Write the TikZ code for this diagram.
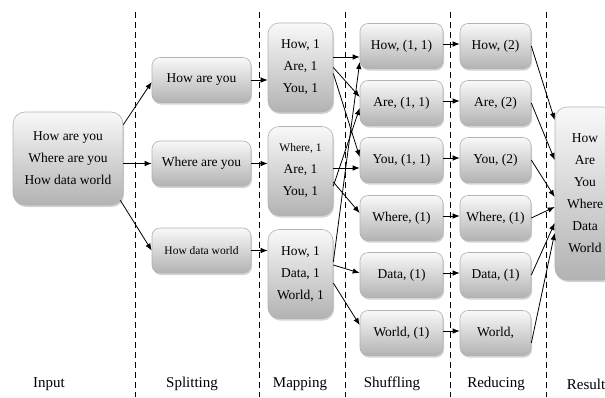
\documentclass[tikz,border=0pt]{standalone}
\usepackage{fontspec}
\setmainfont{Liberation Serif}
\usetikzlibrary{shadows,arrows.meta}

\tikzset{
    box/.style={draw=gray!60, line width=0.6pt, rounded corners=8pt, top color=gray!5, bottom color=gray!60,
        drop shadow={opacity=0.35,shadow xshift=1pt,shadow yshift=-2pt},
        inner sep=0pt, align=center, font=\fontsize{13.5}{22}\selectfont},
    flow/.style={-{Latex[length=7pt,width=5.5pt]}, line width=0.8pt},
    sep/.style={line width=1pt, dash pattern=on 6pt off 4pt},
    phase/.style={font=\fontsize{15}{17}\selectfont}
}

\begin{document}
\begin{tikzpicture}[x=1pt,y=1pt,yscale=-1]
    \useasboundingbox (0,0) rectangle (605,397);

    \draw[sep] (135,12) -- (135,397);
    \draw[sep] (259,12) -- (259,397);
    \draw[sep] (345,12) -- (345,397);
    \draw[sep] (450,12) -- (450,397);
    \draw[sep] (546,12) -- (546,397);

    \node[box, rounded corners=12pt, minimum width=110pt, minimum height=93pt] (in) at (68,158.5) {How are you\\Where are you\\How data world};

    \node[box, minimum width=99pt, minimum height=45pt] (s1) at (201.5,80) {How are you};
    \node[box, minimum width=99pt, minimum height=45pt] (s2) at (201.5,163.5) {Where are you};
    \node[box, minimum width=99pt, minimum height=45pt, font=\fontsize{11.5}{13}\selectfont] (s3) at (201.5,250.5) {How data world};

    \node[box, rounded corners=11pt, minimum width=65pt, minimum height=89pt] (m1) at (300.5,67.5) {How, 1\\Are, 1\\You, 1};
    \node[box, rounded corners=11pt, minimum width=65pt, minimum height=89pt] (m2) at (300.5,171) {{\fontsize{11.5}{13}\selectfont Where, 1}\\Are, 1\\You, 1};
    \node[box, rounded corners=11pt, minimum width=65pt, minimum height=89pt] (m3) at (300.5,274) {How, 1\\Data, 1\\World, 1};

    \node[box, minimum width=83pt, minimum height=45pt] (sh1) at (401.5,46) {How, (1, 1)};
    \node[box, minimum width=83pt, minimum height=45pt] (sh2) at (401.5,103) {Are, (1, 1)};
    \node[box, minimum width=83pt, minimum height=45pt] (sh3) at (401.5,160) {You, (1, 1)};
    \node[box, minimum width=83pt, minimum height=45pt] (sh4) at (401.5,218) {Where, (1)};
    \node[box, minimum width=83pt, minimum height=45pt] (sh5) at (401.5,275) {Data, (1)};
    \node[box, minimum width=83pt, minimum height=45pt] (sh6) at (401.5,333) {World, (1)};

    \node[box, minimum width=71pt, minimum height=45pt] (r1) at (495.5,46) {How, (2)};
    \node[box, minimum width=71pt, minimum height=45pt] (r2) at (495.5,103) {Are, (2)};
    \node[box, minimum width=71pt, minimum height=45pt] (r3) at (495.5,160) {You, (2)};
    \node[box, minimum width=71pt, minimum height=45pt] (r4) at (495.5,218) {Where, (1)};
    \node[box, minimum width=71pt, minimum height=45pt] (r5) at (495.5,275) {Data, (1)};
    \node[box, minimum width=71pt, minimum height=45pt] (r6) at (495.5,333) {World,};

    \node[box, rounded corners=12pt, minimum width=60pt, minimum height=173pt, text width=56pt] (res) at (585,193.5) {How\\Are\\You\\Where\\Data\\World};

    \node[phase] (pin) at (49,384) {Input};
    \node[phase] (psplit) at (192,384) {Splitting};
    \node[phase] (pmap) at (300,384) {Mapping};
    \node[phase] (pshuf) at (392,384) {Shuffling};
    \node[phase] (pred) at (496,384) {Reducing};
    \node[phase] (pres) at (586,384) {Result};

    % input -> splitting -> mapping
    \draw[flow] ([yshift=13pt]in.north east) -- ([yshift=2pt]s1.west);
    \draw[flow] (in.east |- s2.west) -- (s2.west);
    \draw[flow] ([xshift=-3pt,yshift=-5pt]in.south east) -- (s3.west);
    \draw[flow] (s1.east) -- (m1.west |- s1.east);
    \draw[flow] (s2.east) -- (m2.west |- s2.east);
    \draw[flow] (s3.east) -- (m3.west |- s3.east);

    % mapping -> shuffling
    \draw[flow] ([yshift=-10.5pt]m1.east) -- ([yshift=11pt]sh1.west);
    \draw[flow] (m1.east) -- ([yshift=-6pt]sh2.west);
    \draw[flow] ([yshift=6pt]m1.east) -- ([yshift=-3pt]sh3.west);
    \draw[flow] ([yshift=15pt]m2.east) -- ([yshift=5pt]sh2.west);
    \draw[flow] ([yshift=-3pt]m2.east) -- ([yshift=8pt]sh3.west);
    \draw[flow] ([yshift=11pt]m2.east) -- ([yshift=-5pt]sh4.west);
    \draw[flow] ([yshift=-12pt]m3.east) -- ([yshift=16pt]sh1.west);
    \draw[flow] ([yshift=-9pt]m3.east) -- ([yshift=-2pt]sh5.west);
    \draw[flow] ([yshift=9pt]m3.east) -- ([yshift=-8pt]sh6.west);

    % shuffling -> reducing -> result
    \foreach \i in {1,...,6}
        \draw[flow] ([yshift=-2pt]sh\i.east) -- ([yshift=-2pt]r\i.west);
    \draw[flow] (r1.east) -- ([yshift=-73.5pt]res.west);
    \draw[flow] (r2.east) -- ([yshift=-33.5pt]res.west);
    \draw[flow] (r3.east) -- ([yshift=3.5pt]res.west);
    \draw[flow] (r4.east) -- ([yshift=13.5pt]res.west);
    \draw[flow] (r5.east) -- ([yshift=29.5pt]res.west);
    \draw[flow] ([yshift=10pt]r6.east) -- ([yshift=39.5pt]res.west);
\end{tikzpicture}
\end{document}
